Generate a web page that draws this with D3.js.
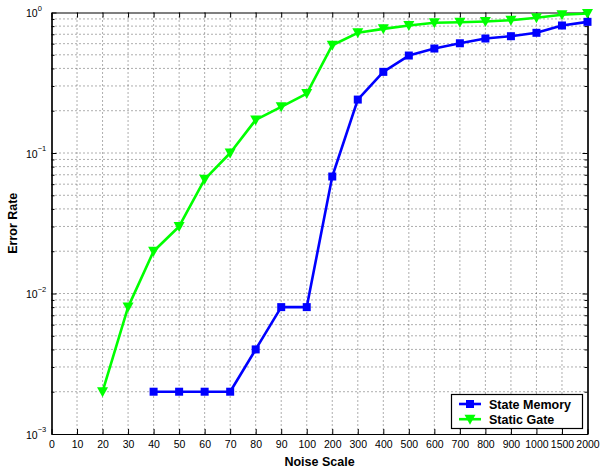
<!DOCTYPE html>
<html>
<head>
<meta charset="utf-8">
<script src="https://cdn.jsdelivr.net/npm/d3@7"></script>
<style>
body { margin: 0; background: #fff; }
svg { font-family: "Liberation Sans", Arial, Helvetica, sans-serif; }
.grid line { stroke: #333; stroke-width: 0.8; stroke-dasharray: 1,3; }
.axis path, .axis line { stroke: #000; }
.axis text { font-size: 10.5px; fill: #000; }
</style>
</head>
<body>
<div id="chart_wrapper"></div>
<script>
var xTicks = [0, 10, 20, 30, 40, 50, 60, 70, 80, 90, 100, 200, 300, 400, 500, 600, 700, 800, 900, 1000, 1500, 2000];
var yMajor = [1e-3, 1e-2, 1e-1, 1];

var memoryX = [40, 50, 60, 70, 80, 90, 100, 200, 300, 400, 500, 600, 700, 800, 900, 1000, 1500, 2000];
var memoryY = [0.002, 0.002, 0.002, 0.002, 0.004, 0.008, 0.008, 0.068, 0.24, 0.378, 0.494, 0.554, 0.604, 0.653, 0.678, 0.717, 0.808, 0.858];

var gateX = [20, 30, 40, 50, 60, 70, 80, 90, 100, 200, 300, 400, 500, 600, 700, 800, 900, 1000, 1500, 2000];
var gateY = [0.002, 0.008, 0.02, 0.03, 0.065, 0.1, 0.172, 0.213, 0.265, 0.585, 0.717, 0.765, 0.808, 0.845, 0.853, 0.863, 0.881, 0.917, 0.963, 0.984];

var seriesNames = ["State Memory", "Static Gate"];

var margin = { left: 51.5, right: 12.5, top: 12.5, bottom: 34 },
    totalWidth = 600,
    totalHeight = 468;
var width = totalWidth - margin.left - margin.right;
var height = totalHeight - margin.top - margin.bottom;

var svg = d3.select("#chart_wrapper").append("svg").attr("width", totalWidth).attr("height", totalHeight)
    .append("g").attr("transform", "translate(" + margin.left + "," + margin.top + ")");

var x = d3.scalePoint().domain(xTicks).range([0, width]).padding(0);
var y = d3.scaleLog().domain([1e-3, 1]).range([height, 0]);

// minor values 2..9 in each decade
var yMinor = [];
yMajor.slice(0, -1).forEach(function(d) {
    for (var k = 2; k <= 9; k++) yMinor.push(d * k);
});

// dotted grid
var grid = svg.append("g").attr("class", "grid");
grid.selectAll(".vg").data(xTicks.slice(1, -1)).enter().append("line")
    .attr("x1", (d) => x(d)).attr("x2", (d) => x(d)).attr("y1", 0).attr("y2", height);
grid.selectAll(".hg").data(yMinor.concat(yMajor.slice(1, -1))).enter().append("line")
    .attr("x1", 0).attr("x2", width).attr("y1", (d) => y(d)).attr("y2", (d) => y(d));

// box and inward ticks on all sides
svg.append("g").attr("class", "axis").attr("transform", "translate(0," + height + ")")
    .call(d3.axisBottom(x).tickSize(-5).tickSizeOuter(0).tickPadding(7));
svg.append("g").attr("class", "axis")
    .call(d3.axisTop(x).tickSize(-5).tickSizeOuter(0).tickFormat(""));
svg.append("g").attr("class", "axis")
    .call(d3.axisLeft(y).tickValues(yMajor).tickSize(-5).tickSizeOuter(0).tickFormat(""));
svg.append("g").attr("class", "axis")
    .call(d3.axisLeft(y).tickValues(yMinor).tickSize(-3).tickSizeOuter(0).tickFormat(""));
svg.append("g").attr("class", "axis").attr("transform", "translate(" + width + ",0)")
    .call(d3.axisRight(y).tickValues(yMajor).tickSize(-5).tickSizeOuter(0).tickFormat(""));
svg.append("g").attr("class", "axis").attr("transform", "translate(" + width + ",0)")
    .call(d3.axisRight(y).tickValues(yMinor).tickSize(-3).tickSizeOuter(0).tickFormat(""));
svg.selectAll(".axis path").attr("stroke-width", 1.2);

// 10^n labels
var yl = svg.selectAll(".ylab").data(yMajor).enter().append("text").attr("class", "ylab")
    .attr("x", 26 - margin.left).attr("y", (d) => y(d) + 4.5)
    .style("font-size", "10.5px");
yl.append("tspan").text("10");
yl.append("tspan").attr("dy", -6.5).style("font-size", "7.5px")
    .text((d) => { var e = Math.round(Math.log10(d)); return e < 0 ? "\u2212" + (-e) : String(e); });

// titles
svg.append("text").attr("x", width / 2).attr("y", height + 31.5).attr("text-anchor", "middle")
    .style("font-size", "12.5px").style("font-weight", "bold").text("Noise Scale");
svg.append("text").attr("transform", "translate(" + (16.5 - margin.left) + "," + (height / 2) + ") rotate(-90)")
    .attr("text-anchor", "middle").style("font-size", "12.5px").style("font-weight", "bold").text("Error Rate");

// series
var memoryData = memoryX.map((d, i) => ({ x: d, y: memoryY[i] }));
var gateData = gateX.map((d, i) => ({ x: d, y: gateY[i] }));

var line = d3.line().x((d) => x(d.x)).y((d) => y(d.y));

svg.append("path").attr("d", line(gateData)).attr("fill", "none").attr("stroke", "#00ff00").attr("stroke-width", 2.6).attr("stroke-linejoin", "round");
svg.append("path").attr("d", line(memoryData)).attr("fill", "none").attr("stroke", "#0000ff").attr("stroke-width", 2.6).attr("stroke-linejoin", "round");

var tri = "M-5.5,-4.5L5.5,-4.5L0,5.5Z";
svg.selectAll(".tri").data(gateData).enter().append("path").attr("class", "tri")
    .attr("d", tri).attr("fill", "#00ff00")
    .attr("transform", (d) => "translate(" + x(d.x) + "," + y(d.y) + ")");
svg.selectAll(".sq").data(memoryData).enter().append("rect").attr("class", "sq")
    .attr("x", (d) => x(d.x) - 4).attr("y", (d) => y(d.y) - 4).attr("width", 8).attr("height", 8)
    .attr("fill", "#0000ff");

// legend
var lg = svg.append("g").attr("transform", "translate(" + (451.5 - margin.left) + "," + (394.5 - margin.top) + ")");
lg.append("rect").attr("width", 131).attr("height", 34).attr("fill", "#fff").attr("stroke", "#000").attr("stroke-width", 1.2);
var colors = ["#0000ff", "#00ff00"];
seriesNames.forEach(function(name, i) {
    var cy = 9.5 + i * 15.2;
    lg.append("line").attr("x1", 7.5).attr("x2", 29.5).attr("y1", cy).attr("y2", cy)
        .attr("stroke", colors[i]).attr("stroke-width", 2.6);
    if (i == 0) {
        lg.append("rect").attr("x", 14.5).attr("y", cy - 4).attr("width", 8).attr("height", 8).attr("fill", colors[i]);
    } else {
        lg.append("path").attr("d", tri).attr("fill", colors[i]).attr("transform", "translate(18.5," + cy + ")");
    }
    lg.append("text").attr("x", 37.5).attr("y", cy + 4.5).style("font-size", "12.5px").style("font-weight", "bold").text(name);
});
</script>
</body>
</html>
